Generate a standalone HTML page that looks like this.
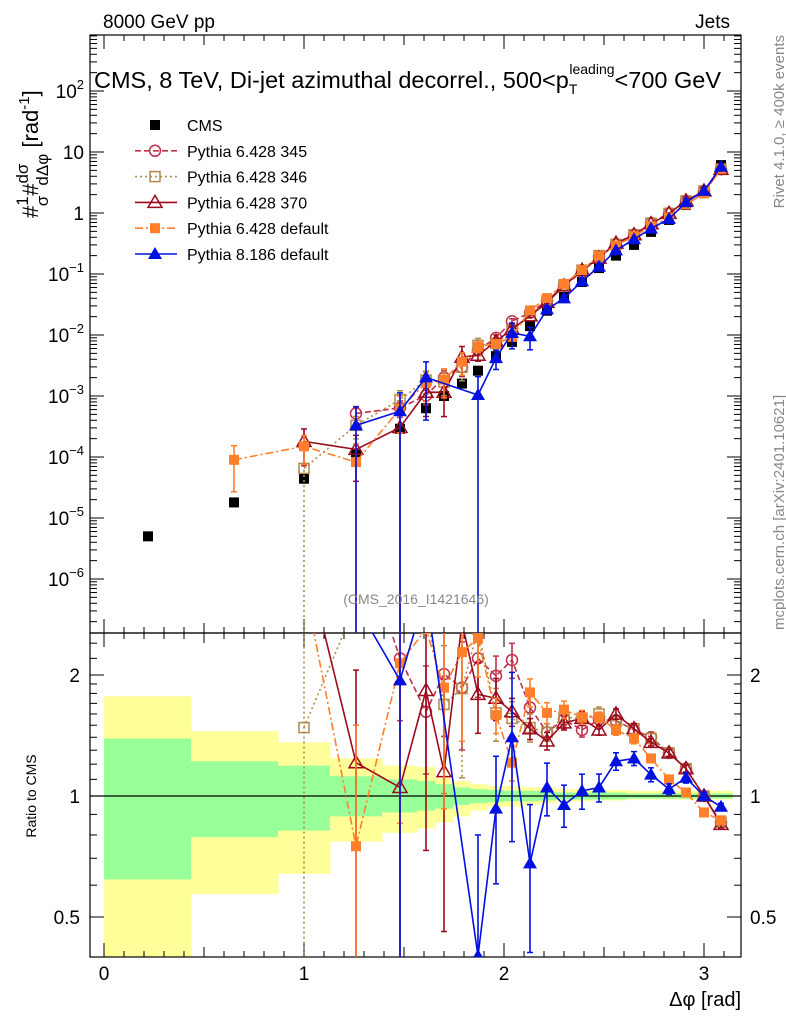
<!DOCTYPE html>
<html><head><meta charset="utf-8"><style>
html,body{margin:0;background:#fff;overflow:hidden;width:786px;height:1024px;}
svg{display:block;font-family:"Liberation Sans",sans-serif;}
</style></head><body>
<svg id="c" width="786" height="1024" viewBox="0 0 786 1024">
<defs>
<clipPath id="cm"><rect x="90" y="35" width="651" height="598"/></clipPath>
<clipPath id="cr"><rect x="90" y="633" width="651" height="324"/></clipPath>
</defs>
<g id="bands" clip-path="url(#cr)"></g>
<g id="grid"></g>
<rect x="90" y="35" width="651" height="598" fill="none" stroke="#000" stroke-width="1.2"/>
<rect x="90" y="633" width="651" height="324" fill="none" stroke="#000" stroke-width="1.2"/>
<line x1="90" x2="741" y1="796" y2="796" stroke="#000" stroke-width="1.3"/>
<g id="mainMarks" clip-path="url(#cm)"></g>
<g id="ratioMarks" clip-path="url(#cr)"></g>
<text x="103" y="28" font-size="19">8000 GeV pp</text>
<text x="730" y="28" font-size="19" text-anchor="end">Jets</text>
<text x="94" y="88" font-size="23.5">CMS, 8 TeV, Di-jet azimuthal decorrel., 500&lt;p<tspan font-size="14" dy="6">T</tspan><tspan font-size="14" dx="-8" dy="-20">leading</tspan><tspan dy="14">&lt;700 GeV</tspan></text>
<text x="416" y="604" font-size="14" fill="#888" text-anchor="middle">(CMS_2016_I1421646)</text>
<text transform="translate(790,35) rotate(-90)" font-size="15" fill="#888" text-anchor="end" dy="-6">Rivet 4.1.0, ≥ 400k events</text>
<text transform="translate(790,630) rotate(-90)" font-size="15" fill="#888" dy="-6">mcplots.cern.ch [arXiv:2401.10621]</text>
<g transform="translate(38,218) rotate(-90)">
<text x="0" y="0" font-size="22">#<tspan font-size="17" dy="-10">1</tspan><tspan font-size="17" dx="-10" dy="20">σ</tspan><tspan dy="-10">#</tspan><tspan font-size="17" dy="-10">dσ</tspan><tspan font-size="17" dx="-22" dy="20">dΔφ</tspan><tspan dy="-10"> [rad</tspan><tspan font-size="15" dy="-9">-1</tspan><tspan dy="9">]</tspan></text>
</g>
<text transform="translate(36,796) rotate(-90)" font-size="14" text-anchor="middle">Ratio to CMS</text>
<text x="741" y="1006" font-size="20" text-anchor="end">Δφ [rad]</text>
<g id="legend"></g>
</svg>
<script>
const xCenters=[0.22,0.65,1.0,1.26,1.48,1.61,1.70,1.79,1.87,1.96,2.04,2.13,2.215,2.30,2.39,2.475,2.56,2.65,2.735,2.825,2.91,3.0,3.085];
const binEdges=[0,0.435,0.87,1.13,1.39,1.565,1.655,1.745,1.83,1.915,2.0,2.09,2.175,2.26,2.35,2.435,2.52,2.61,2.695,2.78,2.87,2.955,3.04,3.1416];
const cmsValues=[5e-6,1.8e-5,4.4e-5,1.1e-4,2.9e-4,6.3e-4,1.0e-3,1.6e-3,2.6e-3,4.5e-3,7.7e-3,0.014,0.025,0.042,0.074,0.125,0.20,0.30,0.49,0.77,1.35,2.3,6.1];
const yellowHi=[1.77,1.45,1.36,1.24,1.19,1.18,1.11,1.09,1.07,1.06,1.06,1.05,1.05,1.04,1.04,1.035,1.035,1.03,1.03,1.03,1.03,1.03,1.03];
const yellowLo=[0.3,0.57,0.64,0.77,0.81,0.83,0.86,0.89,0.92,0.94,0.94,0.95,0.96,0.97,0.97,0.975,0.975,0.98,0.98,0.98,0.98,0.98,0.98];
const greenHi=[1.39,1.22,1.19,1.12,1.10,1.09,1.07,1.05,1.04,1.035,1.03,1.03,1.025,1.02,1.02,1.02,1.02,1.015,1.015,1.015,1.015,1.015,1.015];
const greenLo=[0.62,0.79,0.82,0.89,0.91,0.92,0.93,0.95,0.96,0.965,0.97,0.97,0.975,0.98,0.98,0.98,0.98,0.985,0.985,0.985,0.985,0.985,0.985];
const r345=[null,null,null,4.7,2.2,1.62,2.01,1.86,2.2,1.99,2.18,1.66,1.44,1.55,1.46,1.55,1.54,1.46,1.40,1.28,1.17,1.0,0.86];
const r346=[null,null,1.48,3.0,3.0,2.9,1.69,1.85,2.6,1.61,1.56,1.48,1.44,1.57,1.56,1.6,1.53,1.47,1.39,1.28,1.17,1.0,0.86];
const r370=[null,null,4.1,1.21,1.05,1.83,1.15,2.7,1.79,1.75,1.62,1.47,1.37,1.52,1.56,1.46,1.60,1.47,1.36,1.28,1.17,1.0,0.85];
const rP6d=[null,5.0,3.4,0.75,2.14,2.6,1.86,2.28,2.47,1.59,1.21,1.81,1.61,1.64,1.57,1.57,1.46,1.39,1.24,1.10,1.02,0.91,0.87];
const rP8=[null,null,null,3.0,1.94,3.2,null,null,0.40,0.93,1.40,0.68,1.05,0.95,1.03,1.05,1.22,1.24,1.13,1.04,1.11,1.0,0.94];
const e345=[0,0,0,0.3,0.3,0.3,0.3,0.3,0.2,0.12,0.1,0.1,0.05,0.05,0.04,0.04,0.03,0.03,0.03,0.02,0.02,0.02,0.02];
const e346=[0,0,1,0.4,0.4,0.4,0.4,0.4,0.3,0.15,0.1,0.08,0.05,0.05,0.04,0.04,0.03,0.03,0.03,0.02,0.02,0.02,0.02];
const e370=[0,0,0.6,0.7,1,0.6,0.6,0.5,0.2,0.12,0.08,0.06,0.05,0.04,0.04,0.03,0.03,0.03,0.02,0.02,0.02,0.02,0.02];
const eP6d=[0,0.7,0.5,1,0.6,0.5,0.5,0.4,0.2,0.1,0.1,0.08,0.06,0.05,0.04,0.03,0.03,0.03,0.02,0.02,0.02,0.02,0.02];
const eP8=[0,0,0,1,1,0.8,0,0,1,0.35,0.45,0.4,0.15,0.12,0.1,0.08,0.05,0.04,0.04,0.03,0.03,0.02,0.02];
const yTickExp=[2,1,0,-1,-2,-3,-4,-5,-6];
const xTicks=[0,1,2,3];
const rTicks=[0.5,1,2];

const NS="http://www.w3.org/2000/svg";
const X=v=>104+200*v;
const Y=v=>213-61*Math.log10(v);
const R=v=>796-121*Math.log2(v);
function mk(tag,attrs,parent){const e=document.createElementNS(NS,tag);for(const k in attrs)e.setAttribute(k,attrs[k]);parent.appendChild(e);return e;}
const grid=document.getElementById('grid');

const bands=document.getElementById('bands');
for(let i=0;i<xCenters.length;i++){
  const x0=X(binEdges[i]),x1=X(binEdges[i+1]);
  const y=mk('rect',{x:x0,y:R(yellowHi[i]),width:x1-x0+0.5,height:R(yellowLo[i])-R(yellowHi[i]),fill:'#ffff99'},bands);
  
  
  const g=mk('rect',{x:x0,y:R(greenHi[i]),width:x1-x0+0.5,height:R(greenLo[i])-R(greenHi[i]),fill:'#99ff99'},bands);
  
  
}

yTickExp.forEach(e=>{
  const y=Y(Math.pow(10,e));
  [[90,1],[741,-1]].forEach(([x,d])=>{
    const t=mk('line',{x1:x,x2:x+d*14,y1:y,y2:y,stroke:'#000'},grid);
    
    
    for(let m=2;m<10;m++){const ym=Y(m*Math.pow(10,e));if(ym<35)continue;
      mk('line',{x1:x,x2:x+d*7,y1:ym,y2:ym,stroke:'#000'},grid);}
  });
  const lbl=mk('text',{x:84,y:y+7,'font-size':19,'text-anchor':'end'},grid);
  
  
  if(e===0)lbl.textContent='1';else if(e===1)lbl.textContent='10';
  else{lbl.textContent='10';const s=mk('tspan',{'font-size':13,dy:-9},lbl);s.textContent=String(e).replace('-','−');}
});
for(let m=2;m<10;m++){const ym=Y(m*1e-7);if(ym<633){mk('line',{x1:90,x2:97,y1:ym,y2:ym,stroke:'#000'},grid);mk('line',{x1:741,x2:734,y1:ym,y2:ym,stroke:'#000'},grid);}}
for(let k=0;k<=31;k++){const v=k/10;const x=X(v);const len=(k%10===0)?14:(k%5===0?10:6);
  mk('line',{x1:x,x2:x,y1:957,y2:957-len,stroke:'#000'},grid);
  mk('line',{x1:x,x2:x,y1:633,y2:633-len,stroke:'#000'},grid);
  mk('line',{x1:x,x2:x,y1:35,y2:35+len,stroke:'#000'},grid);
  mk('line',{x1:x,x2:x,y1:633,y2:633+len,stroke:'#000'},grid);
}
xTicks.forEach(v=>{const t=mk('text',{x:X(v),y:980,'font-size':19,'text-anchor':'middle'},grid);t.textContent=v;
  
  });
rTicks.forEach(v=>{const y=R(v);
  mk('line',{x1:90,x2:104,y1:y,y2:y,stroke:'#000'},grid);mk('line',{x1:741,x2:727,y1:y,y2:y,stroke:'#000'},grid);
  const l=mk('text',{x:80,y:y+7,'font-size':19,'text-anchor':'end'},grid);l.textContent=v;
  
  
  const r=mk('text',{x:750,y:y+7,'font-size':19},grid);r.textContent=v;
  
  });
[0.6,0.7,0.8,0.9,1.1,1.2,1.3,1.4,1.5,1.6,1.7,1.8,1.9,2.2,2.4].forEach(v=>{const y=R(v);
  mk('line',{x1:90,x2:97,y1:y,y2:y,stroke:'#000'},grid);mk('line',{x1:741,x2:734,y1:y,y2:y,stroke:'#000'},grid);});

function marker(g,type,x,y,col,name){
  let e;
  if(type==='sqF'){e=mk('rect',{x:x-5,y:y-5,width:10,height:10,fill:col},g);}
  else if(type==='sqO'){e=mk('rect',{x:x-5,y:y-5,width:10,height:10,fill:'none',stroke:col,'stroke-width':1.5},g);}
  else if(type==='circ'){e=mk('circle',{cx:x,cy:y,r:5.5,fill:'none',stroke:col,'stroke-width':1.5},g);}
  else if(type==='triO'){e=mk('polygon',{points:`${x},${y-7} ${x-7},${y+5} ${x+7},${y+5}`,fill:'none',stroke:col,'stroke-width':1.5},g);}
  else if(type==='triF'){e=mk('polygon',{points:`${x},${y-7} ${x-7},${y+5} ${x+7},${y+5}`,fill:col},g);}
  
  
}
const series=[
 {name:'Pythia 6.428 345',r:r345,e:e345,col:'#c0304a',dash:'6,3',m:'circ',key:'pythia6-345'},
 {name:'Pythia 6.428 346',r:r346,e:e346,col:'#b08a48',dash:'2,3',m:'sqO',key:'pythia6-346'},
 {name:'Pythia 6.428 370',r:r370,e:e370,col:'#9b0a1e',dash:'',m:'triO',key:'pythia6-370'},
 {name:'Pythia 6.428 default',r:rP6d,e:eP6d,col:'#ff7f2a',dash:'8,3,2,3',m:'sqF',key:'pythia6-default'},
 {name:'Pythia 8.186 default',r:rP8,e:eP8,col:'#0010e0',dash:'',m:'triF',key:'pythia8-default'}
];
const mainG=document.getElementById('mainMarks'),ratG=document.getElementById('ratioMarks');
cmsValues.forEach((v,i)=>marker(mainG,'sqF',X(xCenters[i]),Y(v),'#000','cms-point'));
series.forEach(s=>{
  ['main','ratio'].forEach(panel=>{
    const g=mk('g',{},panel==='main'?mainG:ratG);
    
    
    const bottom=panel==='main'?640:960;
    const fv=panel==='main'?(i,v)=>Y(cmsValues[i]*v):(i,v)=>R(v);
    let pts=[];
    s.r.forEach((v,i)=>{if(v!==null)pts.push([X(xCenters[i]),fv(i,v)]);});
    const pl=mk('polyline',{points:pts.map(p=>p.join(',')).join(' '),fill:'none',stroke:s.col,'stroke-width':1.6,'stroke-dasharray':s.dash},g);
    
    
    s.r.forEach((v,i)=>{if(v===null)return;const x=X(xCenters[i]);const e=s.e[i];
      const skipErr=(panel==='ratio'&&v>2.54);
      if(e>0&&!skipErr){const hi=fv(i,v*(1+e)),lo=e>=1?bottom:fv(i,v*(1-e));
        mk('line',{x1:x,x2:x,y1:hi,y2:lo,stroke:s.col,'stroke-width':1.6,'stroke-dasharray':s.dash==='2,3'?'2,3':''},g);
        mk('line',{x1:x-3,x2:x+3,y1:hi,y2:hi,stroke:s.col,'stroke-width':1.5},g);
        if(e<1)mk('line',{x1:x-3,x2:x+3,y1:lo,y2:lo,stroke:s.col,'stroke-width':1.5},g);}
      marker(g,s.m,x,fv(i,v),s.col,s.key+'-point');});
  });
});
const leg=document.getElementById('legend');
const le=[{name:'CMS',col:'#000',m:'sqF',dash:null}].concat(series);
le.forEach((s,k)=>{const y=125+k*25.8;
  const g=mk('g',{},leg);
  
  
  if(s.dash!==null)mk('line',{x1:135,x2:177,y1:y,y2:y,stroke:s.col,'stroke-width':1.6,'stroke-dasharray':s.dash},g);
  marker(g,s.m,155,y,s.col,'legend-marker');
  const t=mk('text',{x:187,y:y+6,'font-size':16},g);t.textContent=s.name;});
</script>
</body></html>
